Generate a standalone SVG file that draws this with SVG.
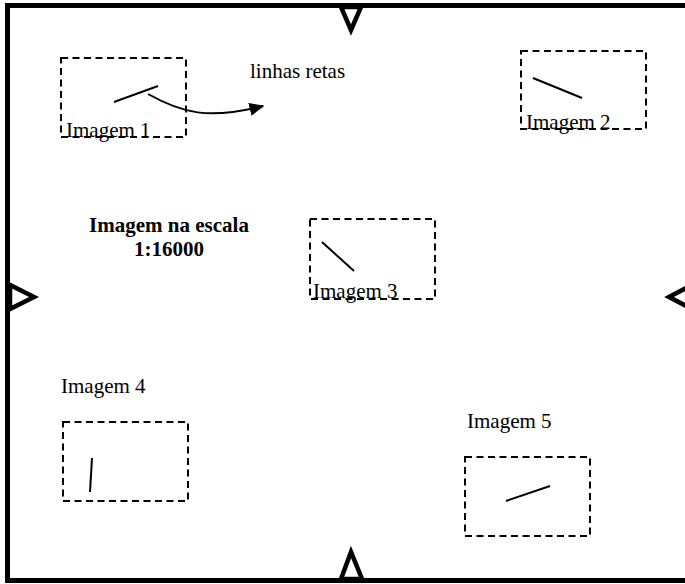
<svg xmlns="http://www.w3.org/2000/svg" width="685" height="584" viewBox="0 0 685 584">
  <style>
    .frame { fill: none; stroke: #000; stroke-width: 5; }
    .tick { fill: #fff; stroke: #000; stroke-width: 4.5; stroke-linejoin: miter; }
    .box { fill: none; stroke: #000; stroke-width: 2; stroke-dasharray: 7 4.5; }
    .seg { stroke: #000; stroke-width: 2; stroke-linecap: butt; }
    .lbl { font-family: "Liberation Serif", "Times New Roman", serif; font-size: 21px; fill: #000; }
    .title { font-family: "Liberation Serif", "Times New Roman", serif; font-size: 21px; font-weight: bold; fill: #000; text-anchor: middle; }
  </style>
  <defs>
    <marker id="head" viewBox="0 0 10 10" refX="9" refY="5" markerWidth="15" markerHeight="13" markerUnits="userSpaceOnUse" orient="auto" preserveAspectRatio="none">
      <path d="M0,0 L10,5 L0,10 z" fill="#000"/>
    </marker>
  </defs>
  <rect width="685" height="584" fill="#fff"/>

  <!-- outer frame (right edge runs past the sheet) -->
  <rect class="frame" x="7.5" y="5.5" width="690" height="575"/>

  <!-- edge ticks -->
  <g id="ticks">
    <path class="tick" d="M341,7 L361,7 L351,30 Z"/>
    <path class="tick" d="M341,579 L362,579 L351,552 Z"/>
    <path class="tick" d="M10,285 L10,309 L34,297 Z"/>
    <path class="tick" d="M692,285 L692,309 L669,297 Z"/>
  </g>

  <g id="titulo">
    <text class="title" x="169" y="232">Imagem na escala</text>
    <text class="title" x="169" y="256">1:16000</text>
  </g>

  <g id="img1">
    <rect class="box" x="61" y="58" width="125" height="79"/>
    <line class="seg" x1="114" y1="102" x2="158" y2="86"/>
    <text class="lbl" x="66" y="137">Imagem 1</text>
  </g>

  <g id="nota">
    <text class="lbl" x="250" y="78">linhas retas</text>
  </g>

  <g id="img2">
    <rect class="box" x="521" y="51" width="125" height="78"/>
    <line class="seg" x1="533" y1="78" x2="582" y2="98"/>
    <text class="lbl" x="526" y="129">Imagem 2</text>
  </g>

  <g id="img3">
    <rect class="box" x="310" y="219" width="125" height="80"/>
    <line class="seg" x1="322" y1="242" x2="354" y2="271"/>
    <text class="lbl" x="313" y="298">Imagem 3</text>
  </g>

  <g id="img4">
    <text class="lbl" x="61" y="393">Imagem 4</text>
    <rect class="box" x="63" y="422" width="125" height="79"/>
    <line class="seg" x1="92" y1="458" x2="90" y2="492"/>
  </g>

  <g id="img5">
    <text class="lbl" x="467" y="428">Imagem 5</text>
    <rect class="box" x="465" y="457" width="125" height="79"/>
    <line class="seg" x1="506" y1="501" x2="550" y2="486"/>
  </g>

  <g id="connectors">
    <path d="M148,94 C182,113 208,120 263,106" fill="none" stroke="#000" stroke-width="2" marker-end="url(#head)"/>
  </g>
</svg>
